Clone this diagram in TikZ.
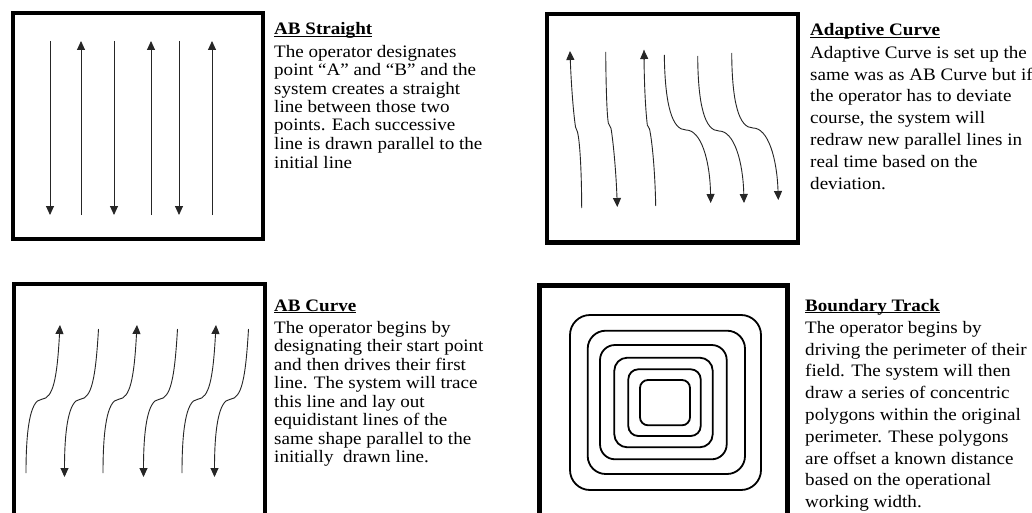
\documentclass[tikz,border=0pt]{standalone}
\usepackage{fontspec}
\setmainfont{Liberation Serif}[FakeStretch=1.09]
\usetikzlibrary{arrows.meta}
\newcommand\mytitle[1]{\setbox0=\hbox{\bfseries #1}\rlap{\rule[-2.4pt]{\wd0}{1.2pt}}\box0}
\tikzset{
  frame/.style={draw=black, line width=4.5pt},
  trk/.style={draw=black!85, line width=0.9pt, -{Triangle[width=8pt,length=9pt]}},
  plain/.style={draw=black!85, line width=0.9pt},
  ring/.style={draw=black, line width=1.8pt},
  txtL/.style={anchor=base west, inner sep=0pt, align=left, font=\fontsize{17.5}{18.5}\selectfont},
  txtR/.style={anchor=base west, inner sep=0pt, align=left, font=\fontsize{17.5}{21.8}\selectfont},
}
\begin{document}
\begin{tikzpicture}[x=1pt,y=-1pt]
\useasboundingbox (0,0) rectangle (1032,513);
\clip (0,0) rectangle (1032,513);
\fill[white] (0,0) rectangle (1032,513);

% ---------- AB Straight ----------
\draw[frame] (13,13) rectangle (263,239);
\foreach \x in {50,114,179} \draw[trk] (\x,41) -- (\x,215);
\foreach \x in {81,151,212} \draw[trk] (\x,215) -- (\x,41);
% anchor = baseline of the last line
\node[txtL] (t1) at (274,168) {\mytitle{AB Straight}\\[3.5pt]
The operator designates\\
point “A” and “B” and the\\
system creates a straight\\
line between those two\\
points. Each successive\\
line is drawn parallel to the\\
initial line};

% ---------- Adaptive Curve ----------
\draw[frame] (547,14) rectangle (798,242.5);
\draw[trk] (581.7,208) .. controls (581.5,165) and (579.5,140) .. (577.5,132) -- (575.5,127) .. controls (573,110) and (571,80) .. (570,51);
\draw[trk] (605.7,52) .. controls (606,90) and (607,115) .. (608.3,123) -- (611,128.3) .. controls (613,140) and (616,170) .. (617.3,207);
\draw[plain] (655.7,206) .. controls (655,170) and (652,140) .. (649.5,129) -- (647.3,125) .. controls (645,105) and (644,75) .. (644,50);
\draw[plain,-{Triangle[width=8pt,length=9pt]}] (644.2,60) -- (644,50);
\draw[trk] (664.3,55) .. controls (665,105) and (672,130) .. (686,130) .. controls (701,130) and (710,160) .. (710.7,203);
\draw[trk] (697.7,56) .. controls (698,106) and (705,131) .. (719,131) .. controls (734,131) and (743,161) .. (744,203);
\draw[trk] (731.7,53) .. controls (732,103) and (739,128) .. (753,128) .. controls (768,128) and (777,158) .. (778.3,200);
\node[txtR] (t2) at (810,189.1) {\mytitle{Adaptive Curve}\\[0.5pt]
Adaptive Curve is set up the\\
same was as AB Curve but if\\
the operator has to deviate\\
course, the system will\\
redraw new parallel lines in\\
real time based on the\\
deviation.};

% ---------- AB Curve ----------
\draw[frame] (14,284) rectangle (265,540);
\foreach \dx in {0,77,156}
  \draw[trk,shift={(\dx,0)}] (26,473) .. controls (26,430) and (30,400) .. (41.7,399.3) .. controls (53,398) and (57,380) .. (60,325);
\foreach \dx in {38.5,117.5,188.5}
  \draw[trk,shift={(\dx,0)}] (60,329) .. controls (57,380) and (53,398) .. (41.7,399.3) .. controls (30,400) and (26,430) .. (26,477);
\node[txtL] (t3) at (274,462.5) {\mytitle{AB Curve}\\[3.5pt]
The operator begins by\\
designating their start point\\
and then drives their first\\
line. The system will trace\\
this line and lay out\\
equidistant lines of the\\
same shape parallel to the\\
initially\ \ drawn line.};

% ---------- Boundary Track ----------
\draw[frame] (539.5,285.5) rectangle (787.5,540);
\draw[ring, rounded corners=20pt] (570,315) rectangle (761,490);
\draw[ring, rounded corners=18pt] (587.7,330.7) rectangle (745,474);
\draw[ring, rounded corners=15pt] (600,345) rectangle (726.7,459.3);
\draw[ring, rounded corners=13pt] (614.3,357.7) rectangle (712.7,447.3);
\draw[ring, rounded corners=10pt] (628.3,369.3) rectangle (700.7,436);
\draw[ring, rounded corners=8pt] (640,380) rectangle (690,425.3);
\node[txtR] (t4) at (805,507.7) {\mytitle{Boundary Track}\\[0.5pt]
The operator begins by\\
driving the perimeter of their\\
field. The system will then\\
draw a series of concentric\\
polygons within the original\\
perimeter. These polygons\\
are offset a known distance\\
based on the operational\\
working width.};
\end{tikzpicture}
\end{document}
